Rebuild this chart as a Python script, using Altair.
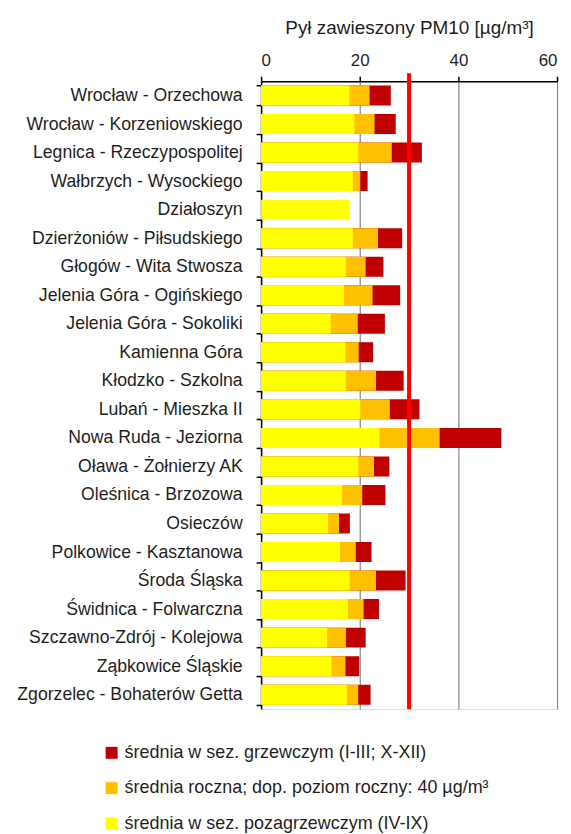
import altair as alt
import pandas as pd

stations = [
    "Wrocław - Orzechowa", "Wrocław - Korzeniowskiego", "Legnica - Rzeczypospolitej",
    "Wałbrzych - Wysockiego", "Działoszyn", "Dzierżoniów - Piłsudskiego",
    "Głogów - Wita Stwosza", "Jelenia Góra - Ogińskiego", "Jelenia Góra - Sokoliki",
    "Kamienna Góra", "Kłodzko - Szkolna", "Lubań - Mieszka II", "Nowa Ruda - Jeziorna",
    "Oława - Żołnierzy AK", "Oleśnica - Brzozowa", "Osieczów", "Polkowice - Kasztanowa",
    "Środa Śląska", "Świdnica - Folwarczna", "Szczawno-Zdrój - Kolejowa",
    "Ząbkowice Śląskie", "Zgorzelec - Bohaterów Getta",
]
summer = [17.9, 18.9, 19.7, 18.6, 17.9, 18.6, 17.2, 16.8, 14.1, 17.1, 17.2, 20.1, 24.0,
          19.7, 16.4, 13.6, 16.0, 18.0, 17.6, 13.4, 14.3, 17.4]
annual = [22.0, 23.0, 26.5, 20.1, None, 23.7, 21.2, 22.6, 19.6, 19.8, 23.3, 26.1, 36.2,
          22.9, 20.5, 15.8, 19.2, 23.3, 20.8, 17.2, 17.1, 19.7]
winter = [26.3, 27.3, 32.6, 21.6, None, 28.6, 24.8, 28.2, 25.1, 22.7, 28.9, 32.1, 48.7,
          26.0, 25.2, 18.0, 22.4, 29.3, 23.9, 21.2, 19.9, 22.2]
limit_value = [30]

series_names = [
    "średnia w sez. grzewczym (I-III; X-XII)",
    "średnia roczna; dop. poziom roczny: 40 µg/m³",
    "średnia w sez. pozagrzewczym (IV-IX)",
]
series_colors = ["#C00000", "#FFC000", "#FFFF00"]

rows = []
for k, vals in enumerate([winter, annual, summer]):
    for s, v in zip(stations, vals):
        if v is not None:
            rows.append({"station": s, "value": v, "series": series_names[k], "ord": k})
df = pd.DataFrame(rows)

W, H = 297, 630
FONT = "Liberation Sans"
TXT = "#1f1f1f"

bars = alt.Chart(df).mark_bar().encode(
    x=alt.X("value:Q", stack=None,
            scale=alt.Scale(domain=[0, 60], nice=False),
            axis=alt.Axis(orient="top", values=[0, 20, 40, 60], grid=True,
                          gridColor="#888888", gridWidth=1.2,
                          domainColor="black", domainWidth=1.5,
                          tickColor="black", tickSize=5, tickWidth=1.5,
                          labelFontSize=17, labelColor=TXT, labelPadding=7,
                          title="Pył zawieszony PM10 [µg/m³]", titleFontSize=19,
                          titleFontWeight="normal", titleColor=TXT, titlePadding=14)),
    y=alt.Y("station:N", sort=stations,
            scale=alt.Scale(paddingInner=0.3, paddingOuter=0.15),
            axis=alt.Axis(title=None, tickBand="extent", tickColor="black", tickSize=5,
                          tickWidth=1.5, domainColor="black", domainWidth=1.5,
                          labelFontSize=17.7, labelColor=TXT, labelPadding=14,
                          labelLimit=400)),
    color=alt.Color("series:N",
                    scale=alt.Scale(domain=series_names, range=series_colors),
                    legend=alt.Legend(title=None, orient="none", legendX=-159, legendY=665,
                                      direction="vertical", symbolType="square",
                                      symbolSize=144, symbolStrokeWidth=0,
                                      labelFontSize=18, labelColor=TXT,
                                      labelLimit=500, rowPadding=17.5, labelOffset=4)),
    order=alt.Order("ord:Q"),
)

lim = alt.Chart(pd.DataFrame({"v": limit_value})).mark_rule(
    color="#FF0000", strokeWidth=4
).encode(x="v:Q", y=alt.value(-8), y2=alt.value(H))

chart = alt.layer(bars, lim).properties(
    width=W, height=H,
    padding={"left": 8, "top": 9, "right": 5, "bottom": 0},
).configure_view(stroke="#555555", strokeWidth=2).configure(font=FONT)

chart.save("out.html", embed_options={"renderer": "svg", "actions": False})
